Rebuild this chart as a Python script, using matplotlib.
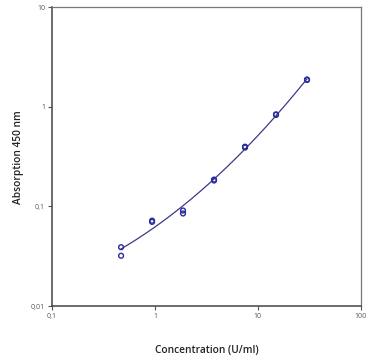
import numpy as np
import matplotlib.pyplot as plt
from matplotlib.ticker import FixedLocator, FixedFormatter, NullLocator

plt.rcParams["font.family"] = ["Open Sans", "DejaVu Sans"]

conc = [0.469, 0.469, 0.938, 0.938, 1.875, 1.875, 3.75, 3.75, 7.5, 7.5, 15, 15, 30, 30]
absorb = [0.039, 0.032, 0.072, 0.070, 0.091, 0.085, 0.186, 0.182, 0.398, 0.390, 0.83, 0.84, 1.86, 1.88]

xticks = [0.1, 1, 10, 100]
xtick_labels = ["0,1", "1", "10", "100"]
yticks = [0.01, 0.1, 1, 10]
ytick_labels = ["0,01", "0,1", "1", "10"]

fig = plt.figure(figsize=(3.88, 3.58), dpi=100)
ax = fig.add_axes([0.134, 0.145, 0.796, 0.835])

# fitted standard curve (quadratic in log-log space)
lx = np.log10(conc)
ly = np.log10(absorb)
coef = np.polyfit(lx, ly, 2)
xs = np.linspace(lx.min(), lx.max(), 200)
ax.plot(10 ** xs, 10 ** np.polyval(coef, xs), color="#3a3a8c", lw=0.9)

ax.scatter(conc, absorb, s=12, facecolors="none", edgecolors="#2b2b9a", linewidths=1.0, zorder=3)

ax.set_xscale("log")
ax.set_yscale("log")
ax.set_xlim(0.1, 100)
ax.set_ylim(0.01, 10)
ax.xaxis.set_major_locator(FixedLocator(xticks))
ax.xaxis.set_major_formatter(FixedFormatter(xtick_labels))
ax.yaxis.set_major_locator(FixedLocator(yticks))
ax.yaxis.set_major_formatter(FixedFormatter(ytick_labels))
ax.xaxis.set_minor_locator(NullLocator())
ax.yaxis.set_minor_locator(NullLocator())
ax.tick_params(labelsize=5, colors="#555555", length=3, width=0.8, pad=2)

for side in ["left", "bottom"]:
    ax.spines[side].set_color("#444444")
    ax.spines[side].set_linewidth(1.1)
for side in ["top", "right"]:
    ax.spines[side].set_color("#777777")
    ax.spines[side].set_linewidth(0.9)

ax.set_xlabel("Concentration (U/ml)", fontsize=7.3, fontweight="semibold",
              color="#222222", labelpad=18)
ax.set_ylabel("Absorption 450 nm", fontsize=7.3, fontweight="semibold",
              color="#222222", labelpad=5)

fig.savefig("out.png", dpi=100)
